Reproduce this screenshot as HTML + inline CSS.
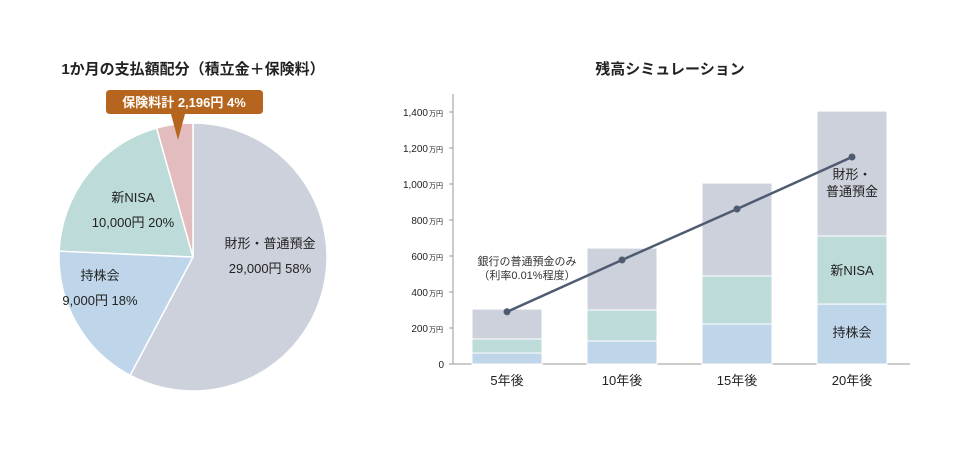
<!DOCTYPE html>
<html><head><meta charset="utf-8">
<style>
body{margin:0;background:#fff;width:980px;height:465px;overflow:hidden;font-family:"Liberation Sans","Noto Sans CJK JP",sans-serif;}
svg text{font-family:"Liberation Sans","Noto Sans CJK JP",sans-serif;}
</style></head>
<body>
<svg width="980" height="465" xmlns="http://www.w3.org/2000/svg">
<text x="193" y="74" text-anchor="middle" font-size="15" font-weight="bold" fill="#222">1か月の支払額配分（積立金＋保険料）</text>
<text x="670" y="74" text-anchor="middle" font-size="15" font-weight="bold" fill="#222">残高シミュレーション</text>
<g id="pie"></g>
<g id="bars"></g>
</svg>
<script>
const pieLabels=["財形・普通預金","持株会","新NISA","保険料計"];
const pieValues=[29000,9000,10000,2196];
const piePercents=["58%","18%","20%","4%"];
const pieColors=["#cdd1dc","#bfd5ea","#bcdbd9","#e3bdbd"];

const years=["5年後","10年後","15年後","20年後"];
const mochikabu=[61,128,222,333];
const nisa=[78,172,267,378];
const zaikei=[166,344,516,694];
const bankOnly=[290,578,861,1150];
const yTicks=[0,200,400,600,800,1000,1200,1400];

const NS="http://www.w3.org/2000/svg";
function mk(tag,attrs,parent){const e=document.createElementNS(NS,tag);for(const k in attrs)e.setAttribute(k,attrs[k]);parent.appendChild(e);return e;}

// Pie
const pie=document.getElementById('pie');
const cx=193,cy=257,r=134;
const total=pieValues.reduce((a,b)=>a+b,0);
let ang=0;
const labelPos=[[270,248,"財形・普通預金","29,000円 58%"],[100,280,"持株会","9,000円 18%"],[133,202,"新NISA","10,000円 20%"]];
pieValues.forEach((v,i)=>{
  const a0=ang, a1=ang+v/total*2*Math.PI; ang=a1;
  const x0=cx+r*Math.sin(a0),y0=cy-r*Math.cos(a0),x1=cx+r*Math.sin(a1),y1=cy-r*Math.cos(a1);
  const large=(a1-a0)>Math.PI?1:0;
  const p=mk('path',{d:`M${cx},${cy}L${x0},${y0}A${r},${r} 0 ${large} 1 ${x1},${y1}Z`,fill:pieColors[i],stroke:'#fff','stroke-width':1.5},pie);
  
  
});
labelPos.forEach((l,i)=>{
  const t=mk('text',{x:l[0],y:l[1],'text-anchor':'middle','font-size':13,fill:'#222'},pie);t.textContent=l[2];
  
  
  const t2=mk('text',{x:l[0],y:l[1]+25,'text-anchor':'middle','font-size':13,fill:'#222'},pie);t2.textContent=l[3];
  
  
});
const co=mk('path',{d:'M110,90H259Q263,90 263,94V110Q263,114 259,114H185L178,140L171,114H110Q106,114 106,110V94Q106,90 110,90Z',fill:'#b5651d'},pie);


const ct=mk('text',{x:184,y:107,'text-anchor':'middle','font-size':13,'font-weight':'bold',fill:'#fff'},pie);
ct.textContent="保険料計  2,196円 4%";



// Bars
const g=document.getElementById('bars');
const x0=453,x1=910,y0=364,ky=252/1400;
const Y=v=>y0-v*ky;
const X=i=>507+i*115;
const bw=70;
const ax=mk('line',{x1:x0,y1:94,x2:x0,y2:y0,stroke:'#999','stroke-width':1},g);

const bx=mk('line',{x1:x0,y1:y0,x2:x1,y2:y0,stroke:'#999','stroke-width':1},g);

yTicks.forEach(t=>{
  const tk=mk('line',{x1:x0-4,y1:Y(t),x2:x0,y2:Y(t),stroke:'#999'},g);
  
  const tx=mk('text',{x:t===0?444:428,y:Y(t)+4,'text-anchor':'end','font-size':10,fill:'#222'},g);
  tx.textContent=t.toLocaleString('en-US');
  
  if(t>0){const u=mk('text',{x:429,y:Y(t)+4,'font-size':7,fill:'#222'},g);u.textContent="万円";
  }
});
const segColors=["#bfd5ea","#bcdbd9","#cdd1dc"];
const segNames=["mochikabu","nisa","zaikei"];
years.forEach((yr,i)=>{
  let base=0;
  [mochikabu[i],nisa[i],zaikei[i]].forEach((v,s)=>{
    const rc=mk('rect',{x:X(i)-bw/2,y:Y(base+v),width:bw,height:v*ky,fill:segColors[s],stroke:'#fff','stroke-width':1},g);
    
    
    base+=v;
  });
  const lt=mk('text',{x:X(i),y:385,'text-anchor':'middle','font-size':13,fill:'#222'},g);
  lt.textContent=yr;
  
});
const pts=bankOnly.map((v,i)=>X(i)+','+Y(v)).join(' ');
const pl=mk('polyline',{points:pts,fill:'none',stroke:'#4f5b70','stroke-width':2.5},g);

bankOnly.forEach((v,i)=>{const c=mk('circle',{cx:X(i),cy:Y(v),r:3.5,fill:'#4f5b70'},g);
});
const l1=mk('text',{x:527,y:265,'text-anchor':'middle','font-size':11,fill:'#333'},g);l1.textContent="銀行の普通預金のみ";

const l2=mk('text',{x:527,y:279,'text-anchor':'middle','font-size':11,fill:'#333'},g);l2.textContent="（利率0.01%程度）";

[["財形・",179],["普通預金",196],["新NISA",275],["持株会",337]].forEach(d=>{
  const t=mk('text',{x:X(3),y:d[1],'text-anchor':'middle','font-size':13,fill:'#222'},g);t.textContent=d[0];
  
});
</script>
</body></html>
